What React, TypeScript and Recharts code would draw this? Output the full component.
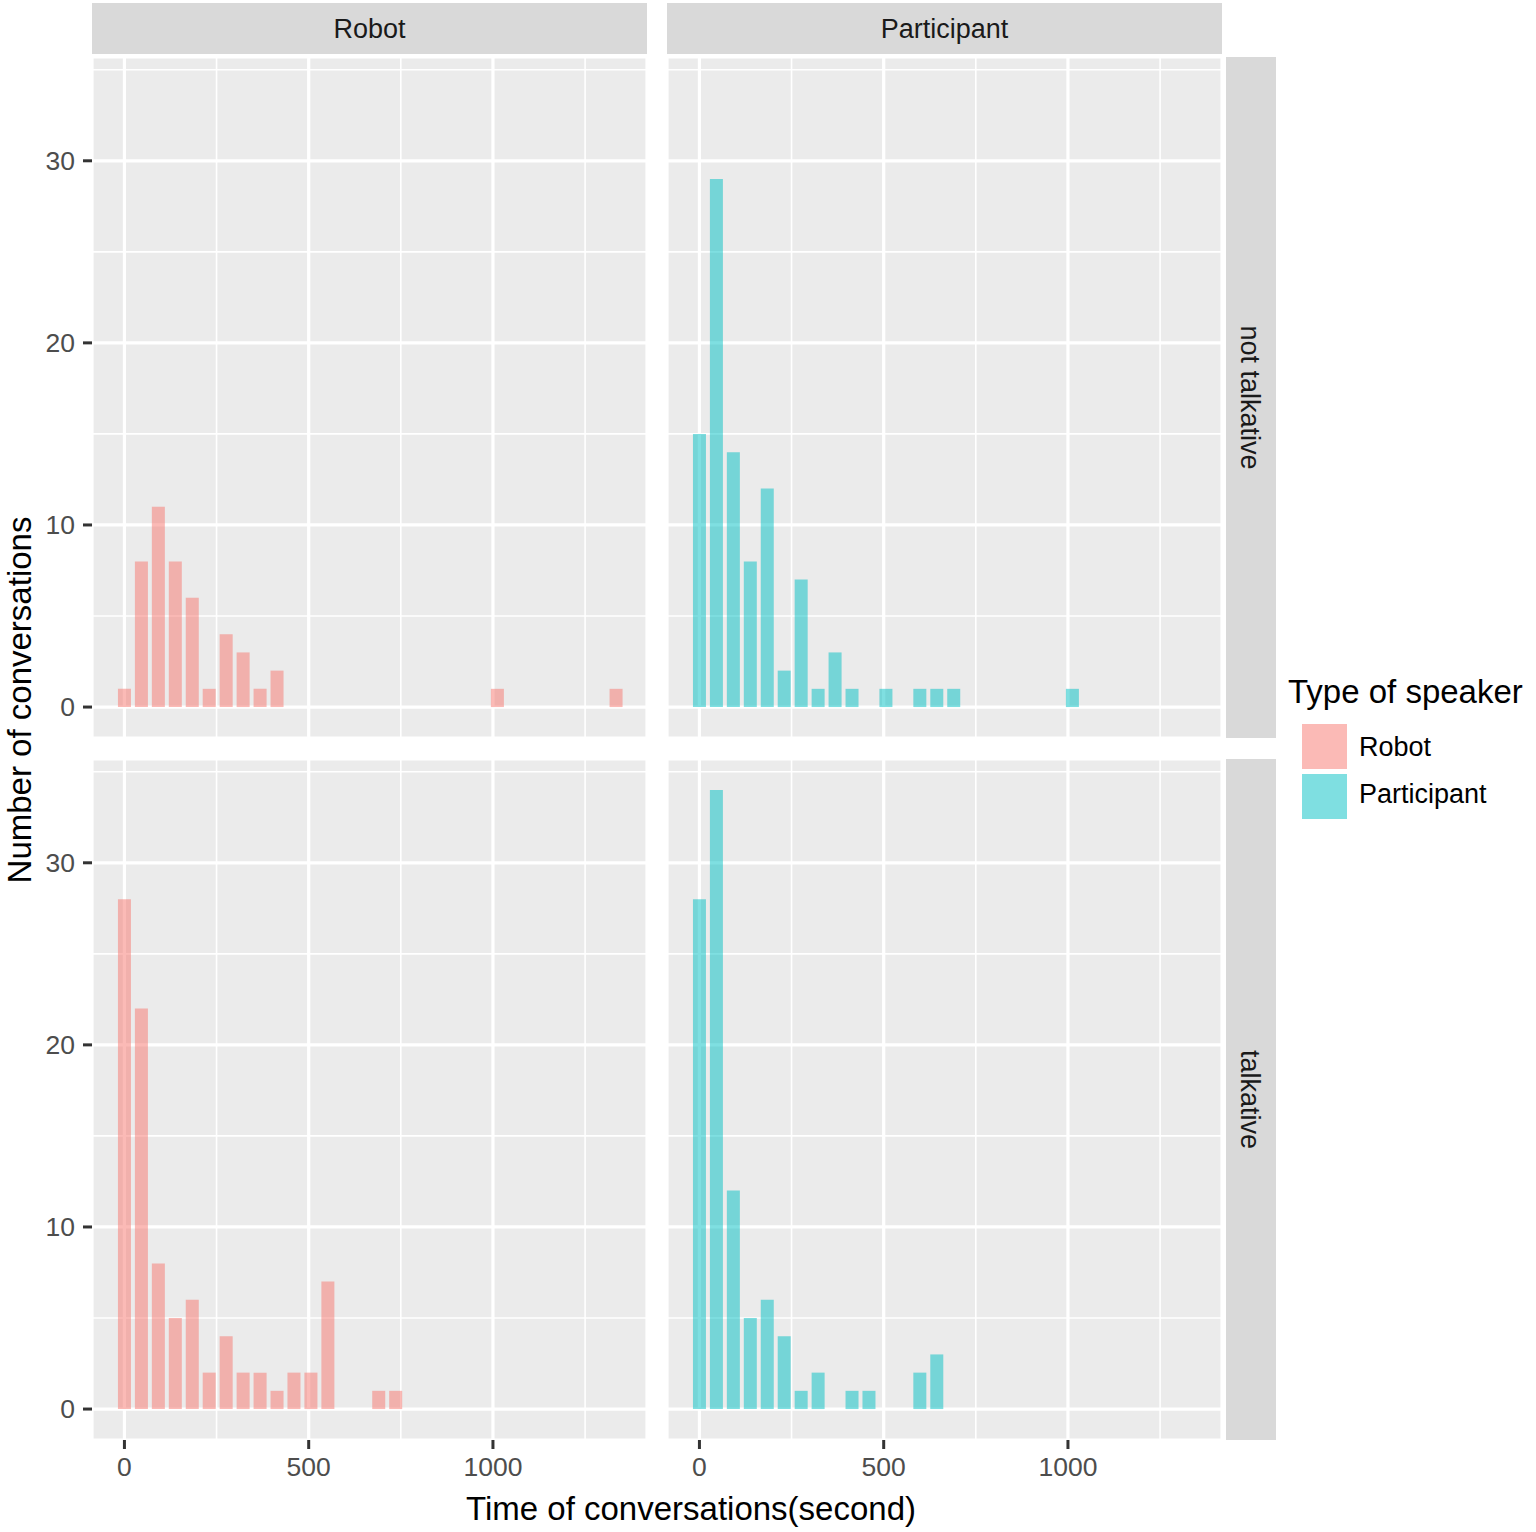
import React from 'react';
import { BarChart, Bar, XAxis, YAxis, CartesianGrid } from 'recharts';

// histogram bin centres (seconds), shared by all four panels
const binCenters = [
  0, 46, 92, 138, 184, 230, 276, 322, 368, 414,
  460, 506, 552, 598, 644, 690, 736, 782, 828, 874,
  920, 966, 1012, 1058, 1104, 1150, 1196, 1242, 1288, 1334,
];

// counts per bin
const robotNotTalkative = [1, 8, 11, 8, 6, 1, 4, 3, 1, 2, 0, 0, 0, 0, 0, 0, 0, 0, 0, 0, 0, 0, 1, 0, 0, 0, 0, 0, 0, 1];
const participantNotTalkative = [15, 29, 14, 8, 12, 2, 7, 1, 3, 1, 0, 1, 0, 1, 1, 1, 0, 0, 0, 0, 0, 0, 1, 0, 0, 0, 0, 0, 0, 0];
const robotTalkative = [28, 22, 8, 5, 6, 2, 4, 2, 2, 1, 2, 2, 7, 0, 0, 1, 1, 0, 0, 0, 0, 0, 0, 0, 0, 0, 0, 0, 0, 0];
const participantTalkative = [28, 34, 12, 5, 6, 4, 1, 2, 0, 1, 1, 0, 0, 2, 3, 0, 0, 0, 0, 0, 0, 0, 0, 0, 0, 0, 0, 0, 0, 0];

const speakers = ['Robot', 'Participant'];
const talkGroups = ['not talkative', 'talkative'];
const speakerColors = ['#F8766D', '#00BFC4'];
const legendKeyColors = ['#FBBAB6', '#7FDFE1'];

const xTicks = [0, 500, 1000];
const xMinorTicks = [250, 750, 1250];
const yTicks = [0, 10, 20, 30];
const yMinorTicks = [5, 15, 25, 35];

const X_DOMAIN: [number, number] = [-88, 1418];
const Y_DOMAIN: [number, number] = [-1.7, 35.7];

const FONT = '"Liberation Sans", Arial, Helvetica, sans-serif';
const PANEL_W = 555;
const PANEL_H = 681;
const Y_AXIS_W = 92;
const X_AXIS_H = 60;
const panelLeft = [92, 667];
const panelTop = [57, 759];

type PanelProps = {
  counts: number[];
  color: string;
  left: number;
  top: number;
  showX: boolean;
  showY: boolean;
};

const Panel: React.FC<PanelProps> = ({ counts, color, left, top, showX, showY }) => {
  const data = binCenters.map((x, i) => ({ x, n: counts[i] }));
  const yW = showY ? Y_AXIS_W : 0;
  const xH = showX ? X_AXIS_H : 0;
  const tickStyle = { fontSize: 26.5, fill: '#4D4D4D', fontFamily: FONT };

  return (
    <div style={{ position: 'absolute', left: left - yW, top }}>
      <BarChart
        width={PANEL_W + yW}
        height={PANEL_H + xH}
        data={data}
        margin={{ top: 0, right: 0, bottom: 0, left: 0 }}
        barSize={13}
      >
        <XAxis xAxisId="minor" type="number" dataKey="x" domain={X_DOMAIN} ticks={xMinorTicks} allowDataOverflow hide />
        <YAxis yAxisId="minor" type="number" domain={Y_DOMAIN} ticks={yMinorTicks} allowDataOverflow hide />
        <CartesianGrid xAxisId="minor" yAxisId="minor" stroke="#FFFFFF" strokeWidth={1.6} fill="#EBEBEB" fillOpacity={1} />
        <CartesianGrid stroke="#FFFFFF" strokeWidth={3.2} />
        <XAxis
          type="number"
          dataKey="x"
          domain={X_DOMAIN}
          ticks={xTicks}
          allowDataOverflow
          hide={!showX}
          height={X_AXIS_H}
          axisLine={false}
          tickSize={9}
          tickMargin={8}
          tickLine={{ stroke: '#333333', strokeWidth: 3 }}
          tick={tickStyle}
          interval={0}
        />
        <YAxis
          type="number"
          domain={Y_DOMAIN}
          ticks={yTicks}
          allowDataOverflow
          hide={!showY}
          width={Y_AXIS_W}
          axisLine={false}
          tickSize={9}
          tickMargin={8}
          tickLine={{ stroke: '#333333', strokeWidth: 3 }}
          tick={tickStyle}
          interval={0}
        />
        <Bar dataKey="n" fill={color} fillOpacity={0.5} isAnimationActive={false} />
      </BarChart>
    </div>
  );
};

const panelCounts = [
  [robotNotTalkative, participantNotTalkative],
  [robotTalkative, participantTalkative],
];

export default function App() {
  return (
    <div style={{ position: 'absolute', left: 0, top: 0, width: 1536, height: 1532, background: '#FFFFFF', fontFamily: FONT }}>
      <svg width={1536} height={1532} style={{ position: 'absolute', left: 0, top: 0 }}>
        {/* top strips */}
        {speakers.map((s, c) => (
          <g key={s}>
            <rect x={panelLeft[c]} y={3} width={PANEL_W} height={51} fill="#D9D9D9" />
            <text x={panelLeft[c] + PANEL_W / 2} y={28.5} dy="0.36em" textAnchor="middle" fontSize={27} fill="#1A1A1A" fontFamily={FONT}>
              {s}
            </text>
          </g>
        ))}
        {/* right strips */}
        {talkGroups.map((g, r) => (
          <g key={g}>
            <rect x={1226} y={panelTop[r]} width={50} height={PANEL_H} fill="#D9D9D9" />
            <text
              transform={`translate(1251, ${panelTop[r] + PANEL_H / 2}) rotate(90)`}
              dy="0.36em"
              textAnchor="middle"
              fontSize={27}
              fill="#1A1A1A"
              fontFamily={FONT}
            >
              {g}
            </text>
          </g>
        ))}
        {/* axis titles */}
        <text transform="translate(31, 700) rotate(-90)" textAnchor="middle" fontSize={33} fill="#000000" fontFamily={FONT}>
          Number of conversations
        </text>
        <text x={691} y={1520} textAnchor="middle" fontSize={33} fill="#000000" fontFamily={FONT}>
          Time of conversations(second)
        </text>
        {/* legend */}
        <text x={1288} y={703} fontSize={33} fill="#000000" fontFamily={FONT}>
          Type of speaker
        </text>
        {speakers.map((s, i) => (
          <g key={s}>
            <rect x={1302} y={724 + i * 50} width={45} height={45} fill={legendKeyColors[i]} />
            <text x={1359} y={756 + i * 47} fontSize={27} fill="#000000" fontFamily={FONT}>
              {s}
            </text>
          </g>
        ))}
      </svg>
      {talkGroups.map((g, r) =>
        speakers.map((s, c) => (
          <Panel
            key={`${g}-${s}`}
            counts={panelCounts[r][c]}
            color={speakerColors[c]}
            left={panelLeft[c]}
            top={panelTop[r]}
            showX={r === 1}
            showY={c === 0}
          />
        ))
      )}
    </div>
  );
}
